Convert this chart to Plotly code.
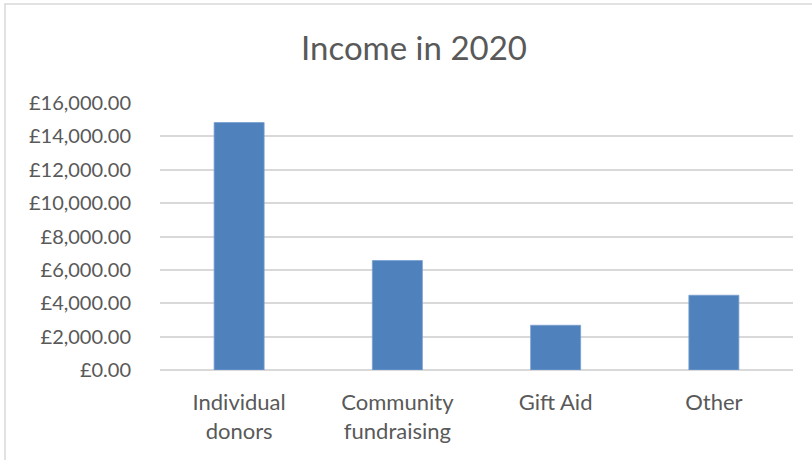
import plotly.graph_objects as go

categories = ["Individual donors", "Community fundraising", "Gift Aid", "Other"]
tick_labels = ["Individual<br>donors", "Community<br>fundraising", "Gift Aid", "Other"]
income = [14830, 6560, 2680, 4480]
y_ticks = [0, 2000, 4000, 6000, 8000, 10000, 12000, 14000, 16000]
y_tick_labels = ["£0.00", "£2,000.00", "£4,000.00", "£6,000.00", "£8,000.00",
                 "£10,000.00", "£12,000.00", "£14,000.00", "£16,000.00"]

L, R, T, B = 160, 19, 103, 90
W, H = 812, 460
pw, ph = W - L - R, H - T - B


def px(x):
    return (x - L) / pw


def py(y):
    return (H - B - y) / ph


fig = go.Figure(go.Bar(
    x=categories, y=income,
    marker=dict(color="#4f81bd", line=dict(color="#7aa0d0", width=0.8)),
    width=0.316,
))

font = "Lato, 'Open Sans', sans-serif"
border = dict(color="#d9d9d9", width=1.5)
fig.update_layout(
    width=W, height=H,
    margin=dict(l=L, r=R, t=T, b=B, autoexpand=False),
    paper_bgcolor="white", plot_bgcolor="white",
    showlegend=False,
    title=dict(text="Income in 2020", x=414 / W, xanchor="center",
               y=1 - 48 / H, yanchor="middle",
               font=dict(family=font, size=33, color="#595959")),
    font=dict(family=font, color="#595959"),
    xaxis=dict(tickmode="array", tickvals=categories, ticktext=tick_labels,
               tickfont=dict(size=22, color="#595959"),
               showgrid=False, zeroline=False, showline=False,
               ticks="", ticklabelstandoff=17, automargin=False),
    yaxis=dict(range=[0, 16000], tickmode="array", tickvals=y_ticks, ticktext=y_tick_labels,
               tickfont=dict(size=20, color="#595959"),
               showgrid=True, gridcolor="#d9d9d9", gridwidth=1.5,
               zeroline=True, zerolinecolor="#d9d9d9", zerolinewidth=1.5,
               showline=False, ticks="", ticklabelstandoff=28, automargin=False),
    shapes=[
        dict(type="line", xref="paper", yref="paper",
             x0=px(5), x1=px(5), y0=py(3.5), y1=py(462), line=border, layer="below"),
        dict(type="line", xref="paper", yref="paper",
             x0=px(4.5), x1=px(815), y0=py(4), y1=py(4), line=border, layer="below"),
    ],
)

fig.write_html("out.html", config={"displayModeBar": False},
               post_script="document.body.style.margin='0';")
